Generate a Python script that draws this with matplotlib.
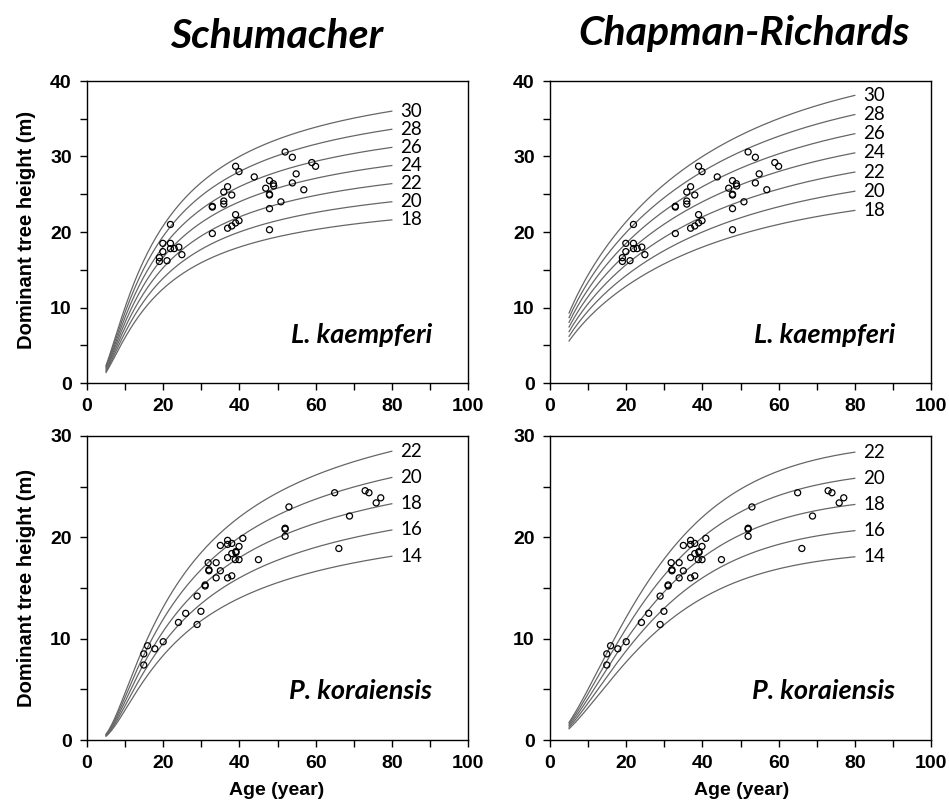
import numpy as np
import matplotlib.pyplot as plt
from matplotlib.ticker import MultipleLocator

# observed stands (age, dominant height)
lk_age = [52.0, 53.9, 59.0, 60.0, 39.0, 39.9, 43.9, 54.9, 47.9, 48.9, 49.0, 53.9,
          46.9, 47.9, 47.9, 56.9, 50.9, 47.9, 47.9, 36.9, 35.9, 38.0, 35.9, 35.9,
          32.9, 32.9, 39.0, 39.9, 39.0, 38.0, 36.9, 32.9, 21.9, 19.9, 21.9, 21.9,
          22.9, 24.1, 19.9, 24.9, 19.0, 19.0, 21.0]
lk_h = [30.6, 29.9, 29.2, 28.7, 28.7, 28.0, 27.3, 27.7, 26.8, 26.4, 26.1, 26.5,
        25.8, 25.0, 24.9, 25.6, 24.0, 23.1, 20.3, 26.0, 25.3, 24.9, 24.1, 23.7,
        23.4, 23.3, 22.3, 21.5, 21.2, 20.8, 20.5, 19.8, 21.0, 18.5, 18.5, 17.8,
        17.8, 18.0, 17.4, 17.0, 16.6, 16.1, 16.2]

pk_age = [65.0, 73.0, 74.0, 77.1, 75.9, 68.9, 53.0, 52.0, 52.0, 52.0, 66.1, 45.0,
          40.9, 39.9, 39.1, 39.1, 38.0, 36.9, 36.9, 35.0, 36.9, 38.0, 38.9, 39.9,
          31.8, 33.9, 32.0, 32.0, 35.0, 33.9, 36.9, 38.0, 31.0, 31.0, 28.9, 29.9,
          25.9, 24.0, 28.9, 20.0, 17.8, 15.9, 14.9, 14.9]
pk_h = [24.4, 24.6, 24.4, 23.9, 23.4, 22.1, 23.0, 20.9, 20.8, 20.1, 18.9, 17.8,
        19.9, 19.1, 18.6, 18.5, 19.4, 19.7, 19.3, 19.2, 18.0, 18.4, 17.8, 17.8,
        17.5, 17.5, 16.8, 16.7, 16.7, 16.0, 16.0, 16.2, 15.3, 15.2, 14.2, 12.7,
        12.5, 11.6, 11.4, 9.7, 9.0, 9.3, 8.5, 7.4]

lk_si = [18, 20, 22, 24, 26, 28, 30]
pk_si = [14, 16, 18, 20, 22]

# fitted model parameters (base age 40)
base_age = 40
schu_b = {'lk': 14.6, 'pk': 20.7}
cr_k = {'lk': 0.0215, 'pk': 0.0473}
cr_c = {'lk': 0.677, 'pk': 1.82}

ages = np.linspace(5, 80, 200)


def schumacher(si, a, b):
    return si * np.exp(b * (1.0 / base_age - 1.0 / a))


def chapman(si, a, k, c):
    return si * ((1 - np.exp(-k * a)) / (1 - np.exp(-k * base_age))) ** c


fig = plt.figure(figsize=(9.49, 8.05), dpi=100)
W, H = 949.0, 805.0
ax_tl = fig.add_axes([87 / W, 1 - 383 / H, 381 / W, 302 / H])
ax_tr = fig.add_axes([550 / W, 1 - 383 / H, 381 / W, 302 / H])
ax_bl = fig.add_axes([87 / W, 1 - 740 / H, 381 / W, 304 / H])
ax_br = fig.add_axes([550 / W, 1 - 740 / H, 381 / W, 304 / H])

panels = [
    (ax_tl, 'lk', 'schu', lk_si, lk_age, lk_h, 40, 'L. kaempferi'),
    (ax_tr, 'lk', 'cr', lk_si, lk_age, lk_h, 40, 'L. kaempferi'),
    (ax_bl, 'pk', 'schu', pk_si, pk_age, pk_h, 30, 'P. koraiensis'),
    (ax_br, 'pk', 'cr', pk_si, pk_age, pk_h, 30, 'P. koraiensis'),
]

for ax, sp, model, sis, xa, yh, ymax, name in panels:
    for si in sis:
        if model == 'schu':
            hh = schumacher(si, ages, schu_b[sp])
        else:
            hh = chapman(si, ages, cr_k[sp], cr_c[sp])
        ax.plot(ages, hh, color='#666666', lw=0.9)
        ax.text(82.3, hh[-1], str(si), fontsize=13.5, family='Lato',
                ha='left', va='center')
    ax.scatter(xa, yh, s=19, facecolors='none', edgecolors='black',
               linewidths=0.9, zorder=3)
    ax.set_xlim(0, 100)
    ax.set_ylim(0, ymax)
    ax.xaxis.set_major_locator(MultipleLocator(20))
    ax.xaxis.set_minor_locator(MultipleLocator(10))
    ax.yaxis.set_major_locator(MultipleLocator(10))
    ax.yaxis.set_minor_locator(MultipleLocator(5))
    ax.tick_params(which='both', direction='out', length=5, width=1,
                   labelsize=14, pad=6)
    for lab in ax.get_xticklabels() + ax.get_yticklabels():
        lab.set_fontweight('bold')
        lab.set_family('Liberation Sans')
    for s in ax.spines.values():
        s.set_linewidth(1)
    ax.text(0.905, 0.16, name, transform=ax.transAxes, ha='right', va='center',
            fontsize=19.5, fontweight='bold', style='italic', family='Lato')

fig.text(277 / W, 1 - 36 / H, 'Schumacher', ha='center', va='center',
         fontsize=29.5, fontweight='bold', style='italic', family='Lato')
fig.text(744 / W, 1 - 34 / H, 'Chapman-Richards', ha='center', va='center',
         fontsize=29.5, fontweight='bold', style='italic', family='Lato')

for yc in [230, 588]:
    fig.text(27 / W, 1 - yc / H, 'Dominant tree height (m)', rotation=90,
             ha='center', va='center', fontsize=14.5, fontweight='bold',
             family='Liberation Sans')
for xc in [277, 742]:
    fig.text(xc / W, 1 - 790 / H, 'Age (year)', ha='center', va='center',
             fontsize=14, fontweight='bold', family='Liberation Sans')

fig.savefig('out.png', dpi=100)
